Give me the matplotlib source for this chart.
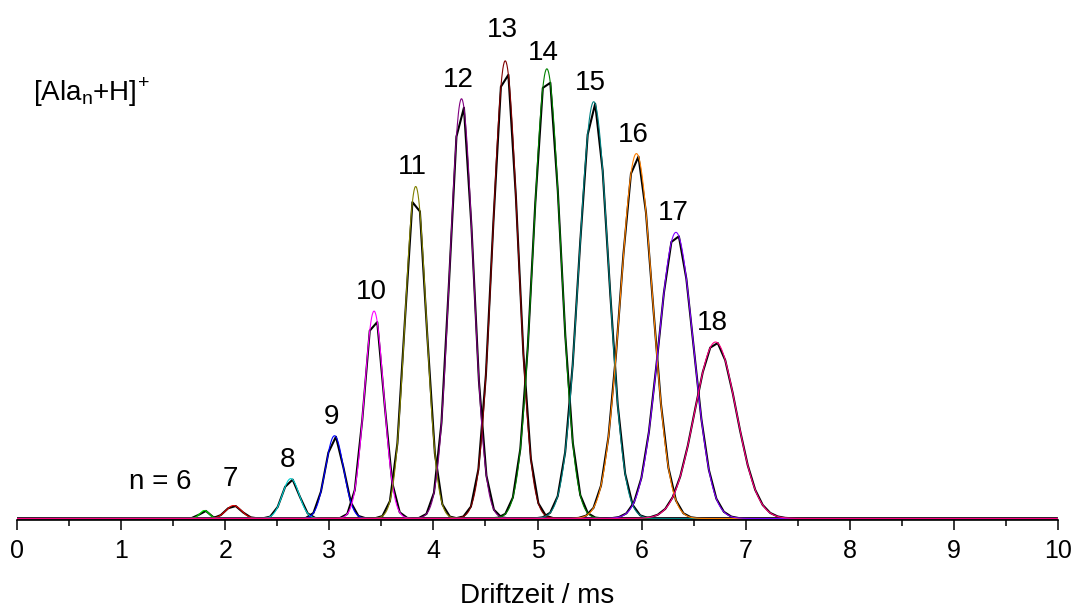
import numpy as np
import matplotlib
matplotlib.use("Agg")
import matplotlib.pyplot as plt

plt.rcParams["font.family"] = ["Liberation Sans", "DejaVu Sans"]
plt.rcParams["mathtext.default"] = "regular"

# Peaks of [Ala_n+H]+ : cluster size, fitted centre (ms), fitted height, width (ms)
cluster_n = [6, 7, 8, 9, 10, 11, 12, 13, 14, 15, 16, 17, 18]
fit_center = [1.80, 2.08, 2.63, 3.05, 3.43, 3.83, 4.27, 4.69, 5.09, 5.54, 5.95, 6.33, 6.71]
fit_height = [8, 13, 40, 83, 208, 333, 421, 459, 451, 418, 366, 287, 177]
fit_sigma = [0.045, 0.075, 0.08, 0.087, 0.093, 0.102, 0.112, 0.122, 0.132, 0.143, 0.155, 0.168, 0.20]

# measured traces (black): highest sampled point of each peak, coarse sampling step
data_height = [7.6, 12.5, 39, 82, 197, 308, 412, 445, 437, 416, 363, 283, 176]
data_step = 0.072

fit_colors = ["#00e000", "#e00000", "#00d0d0", "#0000ff", "#ff00ff", "#808000", "#800080",
              "#800000", "#008000", "#008080", "#ff8000", "#8000ff", "#ff0080"]


def gauss(t, c, h, s):
    return h * np.exp(-0.5 * ((t - c) / s) ** 2)


fig = plt.figure(figsize=(10.75, 6.10), dpi=100)
ax = fig.add_axes([17 / 1075, 90 / 610, 1041 / 1075, 510 / 610])

# measured data first: same profile, sampled on a coarse grid
for c, h, s, hd in zip(fit_center, fit_height, fit_sigma, data_height):
    shift = s * np.sqrt(2 * np.log(h / hd))  # sample nearest to the top
    c0 = c + shift
    k0 = int(np.ceil((0 - c0) / data_step))
    k1 = int(np.floor((10 - c0) / data_step))
    t = c0 + data_step * np.arange(k0, k1 + 1)
    ax.plot(t, gauss(t, c, h, s), color="black", lw=1.5)

# fitted curves on top
t_fine = np.linspace(0, 10, 3001)
for c, h, s, col in zip(fit_center, fit_height, fit_sigma, fit_colors):
    ax.plot(t_fine, gauss(t_fine, c, h, s), color=col, lw=0.8)

# peak labels
for n, c, h in zip(cluster_n, fit_center, fit_height):
    label = str(n)
    dx, dy = -3, 12
    if n == 6:
        label = "n = 6"
        dx, dy = -44, 22
    elif n == 7:
        dy = 20
    elif n == 13:
        dy = 24
    elif n == 14:
        dy = 9
    ax.annotate(label, (c, h), xytext=(dx, dy), textcoords="offset pixels",
                ha="center", va="baseline", fontsize=20)

# species label, superscript placed right after the bracket
W, H = 1075, 610
species = fig.text(33 / W, 1 - 100 / H, r"[Ala$_n$+H]", fontsize=20, va="baseline")
fig.canvas.draw()
bb = species.get_window_extent()
fig.text((bb.x1 + 1) / W, 1 - 88 / H, "+", fontsize=14, va="baseline")

ax.set_xlim(0, 10)
ax.set_ylim(-1.5, 510)
ax.set_xticks(np.arange(0, 11, 1))
ax.set_xticks(np.arange(0.5, 10, 1), minor=True)
ax.set_yticks([])
for side in ["left", "right", "top"]:
    ax.spines[side].set_visible(False)
ax.spines["bottom"].set_linewidth(1.2)
ax.tick_params(axis="x", which="major", direction="out", length=7, width=1.1,
               labelsize=18, pad=7)
ax.tick_params(axis="x", which="minor", direction="out", length=4, width=1.1)
ax.set_xlabel("Driftzeit / ms", fontsize=20, labelpad=14)

fig.savefig("out.png", dpi=100)
